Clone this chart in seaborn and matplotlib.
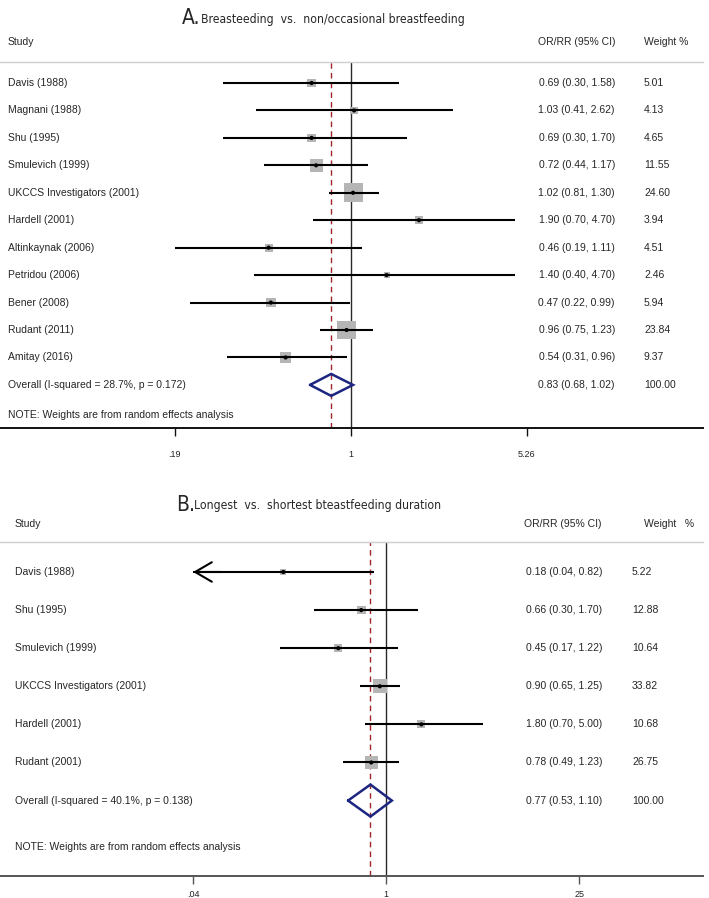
import matplotlib
matplotlib.use("Agg")
import matplotlib.pyplot as plt
import matplotlib.transforms as mtransforms
import seaborn as sns

# Panel A: breastfeeding vs non/occasional breastfeeding
a_study = ["Davis (1988)", "Magnani (1988)", "Shu (1995)", "Smulevich (1999)",
           "UKCCS Investigators (2001)", "Hardell (2001)", "Altinkaynak (2006)",
           "Petridou (2006)", "Bener (2008)", "Rudant (2011)", "Amitay (2016)"]
a_or = [0.69, 1.03, 0.69, 0.72, 1.02, 1.90, 0.46, 1.40, 0.47, 0.96, 0.54]
a_lo = [0.30, 0.41, 0.30, 0.44, 0.81, 0.70, 0.19, 0.40, 0.22, 0.75, 0.31]
a_hi = [1.58, 2.62, 1.70, 1.17, 1.30, 4.70, 1.11, 4.70, 0.99, 1.23, 0.96]
a_weight = [5.01, 4.13, 4.65, 11.55, 24.60, 3.94, 4.51, 2.46, 5.94, 23.84, 9.37]
a_overall = (0.83, 0.68, 1.02)
a_overall_label = "Overall (I-squared = 28.7%, p = 0.172)"
a_ticks = [0.19, 1, 5.26]
a_ticklabels = [".19", "1", "5.26"]

# Panel B: longest vs shortest breastfeeding duration
b_study = ["Davis (1988)", "Shu (1995)", "Smulevich (1999)",
           "UKCCS Investigators (2001)", "Hardell (2001)", "Rudant (2001)"]
b_or = [0.18, 0.66, 0.45, 0.90, 1.80, 0.78]
b_lo = [0.04, 0.30, 0.17, 0.65, 0.70, 0.49]
b_hi = [0.82, 1.70, 1.22, 1.25, 5.00, 1.23]
b_weight = [5.22, 12.88, 10.64, 33.82, 10.68, 26.75]
b_overall = (0.77, 0.53, 1.10)
b_overall_label = "Overall (I-squared = 40.1%, p = 0.138)"
b_ticks = [0.04, 1, 25]
b_ticklabels = [".04", "1", "25"]

note = "NOTE: Weights are from random effects analysis"

sns.set_style("white")
plt.rcParams['font.family'] = ['Liberation Sans', 'DejaVu Sans']

W, H = 709, 898
fig = plt.figure(figsize=(W / 100, H / 100), dpi=100)


def forest(ax, study, est, lo, hi, weight, overall, overall_label, ticks, ticklabels,
           xlim, ylim, size_k, cols, head_y, note_y, diamond_h, axis_color, tick_pad):
    n = len(study)
    rows = list(range(n))
    ax.set_xscale("log")

    # CI lines
    ax.hlines(rows, lo, hi, color="black", lw=1.5, zorder=3)

    # weighted squares + centre dots
    sns.scatterplot(x=est, y=rows, size=weight,
                    sizes=(size_k * min(weight), size_k * max(weight)),
                    marker="s", color="#b5b5b5", edgecolor="none",
                    legend=False, ax=ax, zorder=2)
    sns.scatterplot(x=est, y=rows, marker="o", s=9, color="black",
                    edgecolor="none", legend=False, ax=ax, zorder=4)

    # pooled diamond
    e, l, h = overall
    ax.plot([l, e, h, e, l], [n, n - diamond_h, n, n + diamond_h, n],
            color="#1c2580", lw=1.8, zorder=4, solid_joinstyle="miter")

    ax.axvline(1, color="#2a2a2a", lw=1, zorder=1)
    ax.axvline(e, color="#a0262c", lw=1, ls=(0, (4, 3)), zorder=1)

    ax.set_xlim(*xlim)
    ax.set_ylim(*ylim)
    ax.set_yticks([])
    ax.set_xticks(ticks)
    ax.set_xticklabels(ticklabels)
    ax.xaxis.set_minor_locator(matplotlib.ticker.NullLocator())
    ax.tick_params(axis="x", direction="out", length=6, width=1, pad=tick_pad,
                   labelsize=6.5, colors=axis_color, labelcolor="#222222", bottom=True)
    for s in ["left", "right"]:
        ax.spines[s].set_visible(False)
    ax.spines["top"].set_color("#cfcfcf")
    ax.spines["top"].set_linewidth(1)
    ax.spines["bottom"].set_color(axis_color)
    ax.spines["bottom"].set_linewidth(1.4)
    ax.patch.set_alpha(0)

    tr = mtransforms.blended_transform_factory(fig.transFigure, ax.transData)
    fs = 7.5
    x_lab, x_or_right, x_w, w_head = cols
    kw = dict(transform=tr, fontsize=fs, va="center", clip_on=False)
    ax.text(x_lab / W, head_y, "Study", **kw)
    ax.text(x_or_right / W, head_y, "OR/RR (95% CI)", ha="right", **kw)
    ax.text(w_head[0] / W, head_y, w_head[1], **kw)
    for i in rows:
        ax.text(x_lab / W, i, study[i], **kw)
        ax.text(x_or_right / W, i, f"{est[i]:.2f} ({lo[i]:.2f}, {hi[i]:.2f})", ha="right", **kw)
        ax.text(x_w / W, i, f"{weight[i]:.2f}", **kw)
    ax.text(x_lab / W, n, overall_label, **kw)
    ax.text(x_or_right / W, n, f"{e:.2f} ({l:.2f}, {h:.2f})", ha="right", **kw)
    ax.text(x_w / W, n, "100.00", **kw)
    ax.text(x_lab / W, note_y, note, **kw)


# panel A
axA = fig.add_axes([0, 1 - 428 / H, 703 / W, (428 - 62) / H])
forest(axA, a_study, a_or, a_lo, a_hi, a_weight, a_overall, a_overall_label,
       a_ticks, a_ticklabels, xlim=(0.0365, 27.7), ylim=(12.57, -0.765),
       size_k=7.6, cols=(8, 615, 644, (644, "Weight %")), head_y=-1.49,
       note_y=12.09, diamond_h=0.4, axis_color="#111111", tick_pad=10)

# panel B
axB = fig.add_axes([0, 1 - 876 / H, 703 / W, (876 - 542) / H])
forest(axB, b_study, b_or, b_lo, b_hi, b_weight, b_overall, b_overall_label,
       b_ticks, b_ticklabels, xlim=(0.0016, 197), ylim=(7.98, -0.787),
       size_k=3.1, cols=(15, 602, 632, (644, "Weight   %")), head_y=-1.26,
       note_y=7.22, diamond_h=0.42, axis_color="#555555", tick_pad=4)

# arrow on truncated CI (Davis, panel B)
axB.annotate("", xy=(b_lo[0], 0), xytext=(b_lo[0] * 1.6, 0),
             arrowprops=dict(arrowstyle="->,head_length=1.2,head_width=0.7",
                             lw=1.5, color="black", mutation_scale=10,
                             shrinkA=0, shrinkB=0))

# panel titles (condensed face)
tkw = dict(family=['DejaVu Sans', 'Liberation Sans'], fontstretch="condensed", va="center")
fig.text(182 / W, 1 - 18 / H, "A.", fontsize=15, **tkw)
fig.text(201 / W, 1 - 19 / H, "Breasteeding  vs.  non/occasional breastfeeding",
         fontsize=8.7, **tkw)
fig.text(176 / W, 1 - 505 / H, "B.", fontsize=15, **tkw)
fig.text(194 / W, 1 - 506 / H, "Longest  vs.  shortest bteastfeeding duration",
         fontsize=8.7, **tkw)

fig.savefig("out.png", dpi=100)
